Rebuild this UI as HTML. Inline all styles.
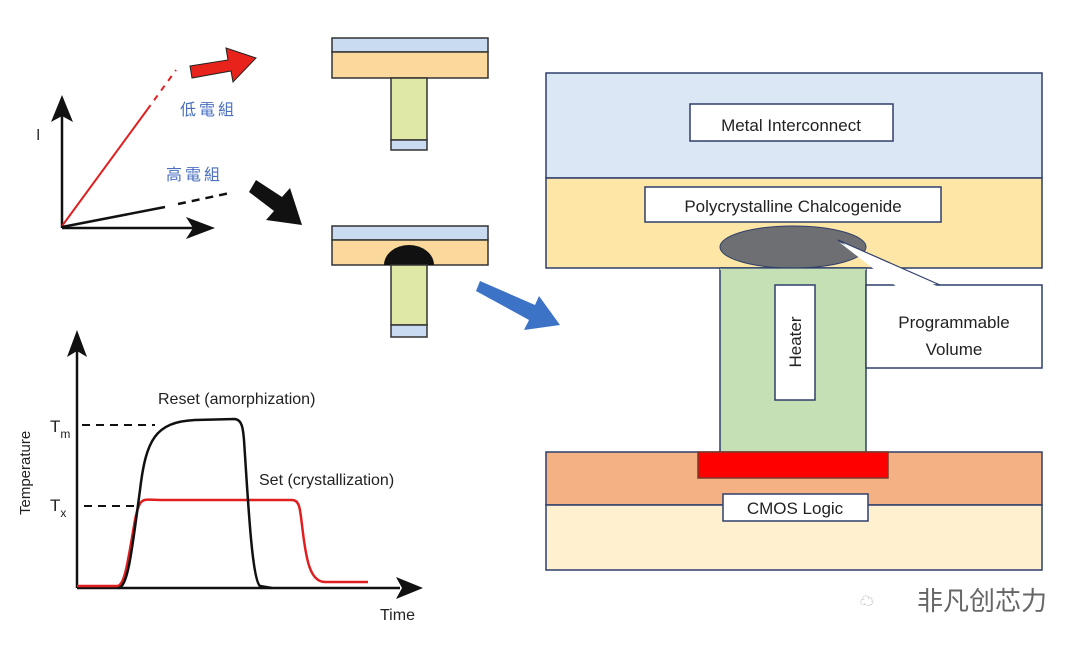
<!DOCTYPE html>
<html><head><meta charset="utf-8"><style>
body{margin:0;background:#fff;}
svg{display:block;font-family:"Liberation Sans","Noto Sans CJK SC",sans-serif;}
</style></head><body>
<svg width="1080" height="649" viewBox="0 0 1080 649" xmlns="http://www.w3.org/2000/svg">
<defs>
<marker id="ah" markerWidth="10" markerHeight="10" refX="8" refY="5" orient="auto" markerUnits="userSpaceOnUse"><path d="M0,0 L10,5 L0,10 L3,5 Z" fill="#111"/></marker>
</defs>
<!-- IV chart -->
<line x1="62" y1="228" x2="62" y2="100" stroke="#111" stroke-width="2.5"/>
<polygon points="62,95 51,122 62,116 73,122" fill="#111"/>
<line x1="62" y1="228" x2="195" y2="228" stroke="#111" stroke-width="2.5"/>
<polygon points="215,228 186,217 193,228 186,239" fill="#111"/>
<text x="36" y="140" font-size="16" fill="#333">I</text>
<line x1="62" y1="226" x2="147" y2="110" stroke="#e02020" stroke-width="2"/>
<line x1="147" y1="110" x2="176" y2="70" stroke="#e02020" stroke-width="2" stroke-dasharray="6,6"/>
<line x1="62" y1="227" x2="165" y2="207" stroke="#111" stroke-width="2.5"/>
<line x1="178" y1="204" x2="230" y2="193" stroke="#111" stroke-width="2.5" stroke-dasharray="8,6"/>
<text x="180" y="115" font-size="16" fill="#4a6fc0" letter-spacing="3">低電組</text>
<text x="166" y="180" font-size="16" fill="#4a6fc0" letter-spacing="3">高電組</text>
<!-- red arrow -->
<polygon points="190,66 228,60 226,48 256,58 233,82 231,71 192,78" fill="#e8231c" stroke="#222" stroke-width="1"/>
<!-- black arrow -->
<polygon points="256,180 282,197 290,188 302,225 266,220 274,211 249,192" fill="#111"/>
<!-- T shape 1 -->
<rect x="332" y="38" width="156" height="14" fill="#c9dbf0" stroke="#333" stroke-width="1.5"/>
<rect x="332" y="52" width="156" height="26" fill="#fbd99c" stroke="#333" stroke-width="1.5"/>
<rect x="391" y="78" width="36" height="62" fill="#dfe8a4" stroke="#333" stroke-width="1.5"/>
<rect x="391" y="140" width="36" height="10" fill="#c9dbf0" stroke="#333" stroke-width="1.5"/>
<!-- T shape 2 -->
<rect x="332" y="226" width="156" height="14" fill="#c9dbf0" stroke="#333" stroke-width="1.5"/>
<rect x="332" y="240" width="156" height="25" fill="#fbd99c" stroke="#333" stroke-width="1.5"/>
<path d="M384,265 A25,20 0 0 1 434,265 Z" fill="#111"/>
<rect x="391" y="265" width="36" height="60" fill="#dfe8a4" stroke="#333" stroke-width="1.5"/>
<rect x="391" y="325" width="36" height="12" fill="#c9dbf0" stroke="#333" stroke-width="1.5"/>
<!-- blue arrow -->
<polygon points="476,291 480,281 535,305 539,296 560,325 524,330 529,320" fill="#3d73c6"/>
<!-- Temperature chart -->
<line x1="77" y1="588" x2="77" y2="350" stroke="#111" stroke-width="2.5"/>
<polygon points="77,330 67,357 77,351 87,357" fill="#111"/>
<line x1="77" y1="588" x2="400" y2="588" stroke="#111" stroke-width="2.5"/>
<polygon points="423,588 396,577 402,588 396,599" fill="#111"/>
<text x="380" y="620" font-size="16" fill="#222">Time</text>
<text transform="translate(30,515) rotate(-90)" font-size="15" fill="#222">Temperature</text>
<text x="50" y="432" font-size="17" fill="#222">T<tspan font-size="12" dy="6">m</tspan></text>
<text x="50" y="511" font-size="17" fill="#222">T<tspan font-size="12" dy="6">x</tspan></text>
<line x1="82" y1="425" x2="155" y2="425" stroke="#111" stroke-width="2" stroke-dasharray="8,6"/>
<line x1="84" y1="506" x2="135" y2="506" stroke="#111" stroke-width="2" stroke-dasharray="8,6"/>
<text x="158" y="404" font-size="16" fill="#222">Reset (amorphization)</text>
<text x="259" y="485" font-size="16" fill="#222">Set (crystallization)</text>
<path d="M77,586 L117,586 C125,586 128,560 135,520 C140,495 143,500 160,500 L292,500 C300,500 300,510 302,525 C306,560 310,582 325,582 L368,582" fill="none" stroke="#e02020" stroke-width="2.5"/>
<path d="M118,588 C128,588 132,550 140,490 C146,440 155,422 195,420 L235,419 C242,420 243,428 244,440 C248,500 252,580 260,586 L272,588" fill="none" stroke="#111" stroke-width="2.5"/>
<!-- right diagram -->
<rect x="546" y="73" width="496" height="105" fill="#dbe7f4" stroke="#2f3f6a" stroke-width="1.5"/>
<rect x="546" y="178" width="496" height="90" fill="#fde6a6" stroke="#2f3f6a" stroke-width="1.5"/>
<rect x="690" y="104" width="203" height="37" fill="#fff" stroke="#2f3f6a" stroke-width="1.5"/>
<text x="791" y="131" font-size="17" fill="#222" text-anchor="middle">Metal Interconnect</text>
<rect x="645" y="187" width="296" height="35" fill="#fff" stroke="#2f3f6a" stroke-width="1.5"/>
<text x="793" y="212" font-size="17" fill="#222" text-anchor="middle">Polycrystalline Chalcogenide</text>
<rect x="546" y="452" width="496" height="53" fill="#f4b183" stroke="#2f3f6a" stroke-width="1.5"/>
<rect x="546" y="505" width="496" height="65" fill="#fff0cf" stroke="#2f3f6a" stroke-width="1.5"/>
<rect x="720" y="268" width="146" height="184" fill="#c5e0b4" stroke="#2f3f6a" stroke-width="1.5"/>
<ellipse cx="793" cy="247" rx="73" ry="21" fill="#6d6f72" stroke="#2f3f6a" stroke-width="1"/>
<rect x="720" y="268" width="146" height="2" fill="#c5e0b4"/>
<line x1="720" y1="268" x2="866" y2="268" stroke="#2f3f6a" stroke-width="1.2"/>
<polygon points="838,240 898,285 940,285" fill="#fff" stroke="#2f3f6a" stroke-width="1.2"/>
<rect x="866" y="285" width="176" height="83" fill="#fff" stroke="#2f3f6a" stroke-width="1.5"/>
<polygon points="839,242 897,287 939,287" fill="#fff"/>
<text x="954" y="328" font-size="17" fill="#222" text-anchor="middle">Programmable</text>
<text x="954" y="355" font-size="17" fill="#222" text-anchor="middle">Volume</text>
<rect x="775" y="285" width="40" height="115" fill="#fff" stroke="#2f3f6a" stroke-width="1.5"/>
<text transform="translate(801,342) rotate(-90)" font-size="17" fill="#222" text-anchor="middle">Heater</text>
<rect x="698" y="452" width="190" height="26" fill="#ff0000" stroke="#7a3a2a" stroke-width="1.5"/>
<rect x="723" y="494" width="145" height="27" fill="#fff" stroke="#2f3f6a" stroke-width="1.5"/>
<text x="795" y="514" font-size="17" fill="#222" text-anchor="middle">CMOS Logic</text>
<!-- watermark -->
<text x="860" y="606" font-size="14" fill="#aaa">☁</text>
<text x="917" y="610" font-size="26" fill="#666">非凡创芯力</text>
</svg>
</body></html>
